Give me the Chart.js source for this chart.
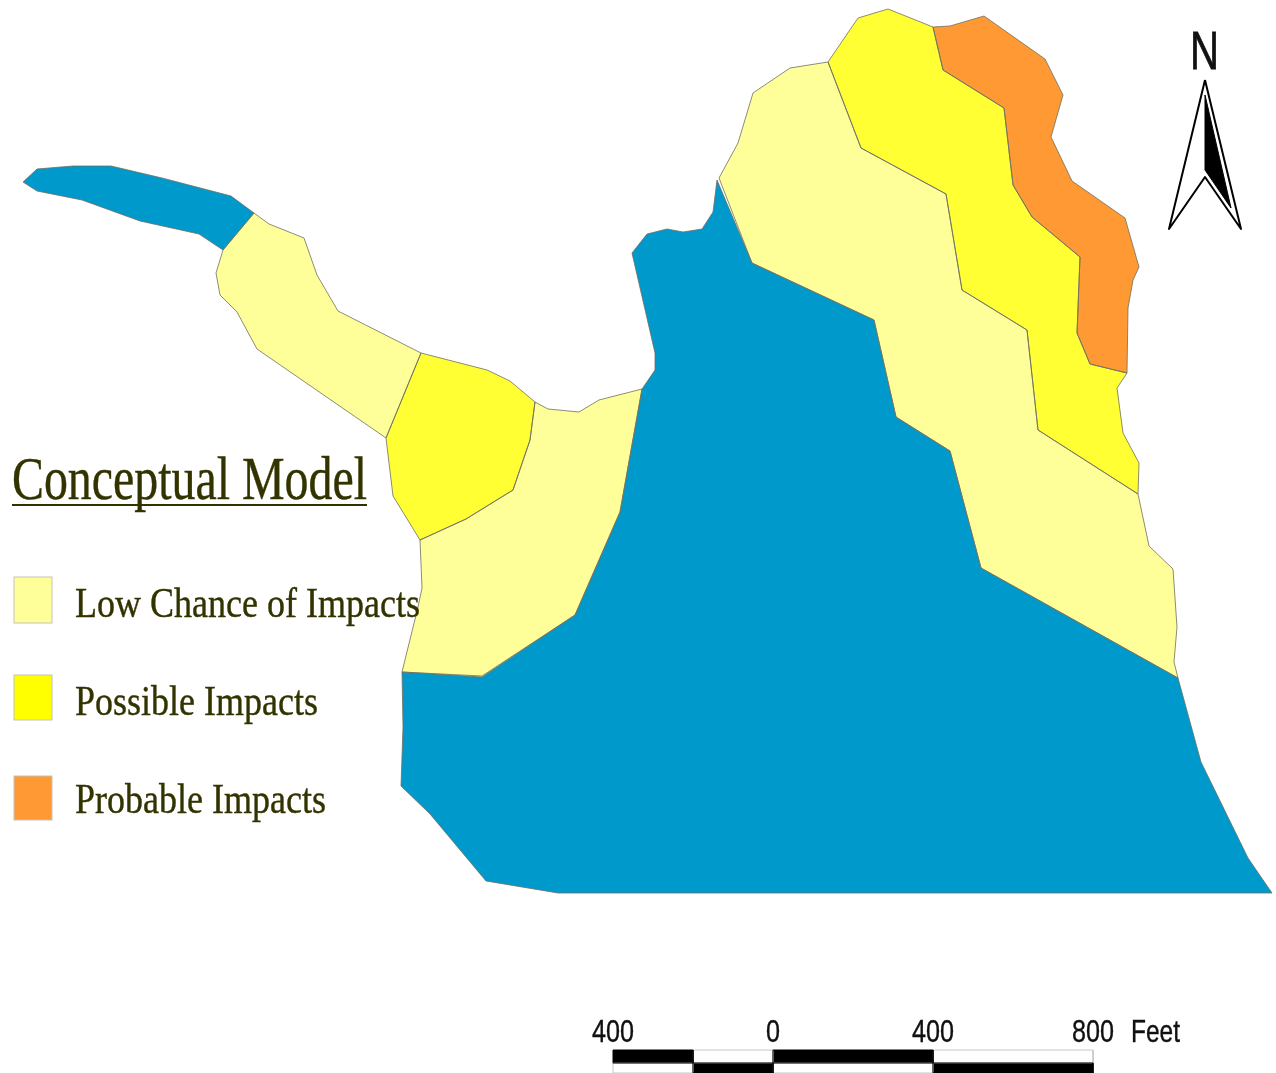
<!DOCTYPE html>
<html>
<head>
<meta charset="utf-8">
<title>Conceptual Model</title>
<style>
  html, body { margin: 0; padding: 0; background: #fff; }
  /* the source map is a soft, resampled raster */
  canvas { display: block; filter: blur(0.5px); }
</style>
<script src="https://cdn.jsdelivr.net/npm/chart.js@4/dist/chart.umd.min.js"></script>
</head>
<body>
<canvas id="chart-map" width="1276" height="1073"></canvas>
<script>
// ─── MAP ZONES (x, y) ────────────────────────────────────────
const waterTail = [
  [23,182],[37,169],[73,166],[111,166],[162,178],[231,196],[254,213],
  [223,250],[199,234],[140,221],[82,200],[37,191]
];
const waterMain = [
  [642,389],[655,370],[655,353],[632,253],[647,234],[667,229],[683,232],
  [702,229],[713,212],[717,180],[752,263],[874,320],[896,417],[950,451],
  [981,568],[1178,678],[1201,762],[1248,858],[1272,893],[558,893],[486,881],
  [430,814],[401,786],[403,727],[402,672],[482,676],[575,615],[620,512]
];
const lowWest = [
  [254,213],[269,224],[304,238],[317,275],[338,311],[421,353],[386,438],
  [257,349],[237,312],[220,295],[216,273],[223,250]
];
const lowMiddle = [
  [535,402],[548,409],[579,412],[599,400],[642,389],[620,512],[575,615],
  [482,677],[402,672],[418,607],[422,588],[420,540],[466,519],[513,490],[530,440]
];
const lowEast = [
  [719,178],[738,143],[753,93],[790,68],[828,62],[861,148],[946,194],[962,290],
  [1027,330],[1038,430],[1138,494],[1149,546],[1173,569],[1177,627],[1174,662],
  [1178,678],[981,568],[950,451],[896,417],[874,320],[752,263]
];
const possibleWest = [
  [421,353],[487,370],[510,381],[535,402],[530,440],[513,490],[466,519],
  [420,540],[393,496],[386,438]
];
const possibleEast = [
  [828,62],[858,18],[888,9],[933,27],[943,70],[1004,108],[1013,185],[1032,217],
  [1080,257],[1077,333],[1090,364],[1127,373],[1117,388],[1123,433],[1139,463],
  [1138,494],[1038,430],[1027,330],[962,290],[946,194],[861,148]
];
const probable = [
  [933,27],[950,26],[984,16],[1045,59],[1063,95],[1051,137],[1072,181],[1125,218],
  [1139,267],[1133,280],[1128,308],[1127,373],[1090,364],[1077,333],[1080,257],
  [1032,217],[1013,185],[1004,108],[943,70]
];

// ─── NORTH ARROW ─────────────────────────────────────────────
const arrowOutline = [[1205,80],[1241,229],[1205,177],[1169,229]];
const arrowShade = [[1205,95],[1231,208],[1205,170]];

// ─── LEGEND / SCALE BAR ──────────────────────────────────────
const mapTitle = 'Conceptual Model';
const legendLabels = ['Low Chance of Impacts', 'Possible Impacts', 'Probable Impacts'];
const scaleFeet = [-400, 0, 400, 800];
const scaleLabels = ['400', '0', '400', '800'];
const scaleTopBlack = [[-400,-200],[0,400]];
const scaleTopWhite = [[-200,0],[400,800]];
const scaleBottomBlack = [[-200,0],[400,800]];
const scaleBottomWhite = [[-400,-200],[0,400]];

const C_WATER = '#0099cc';
const C_LOW = '#ffff99';
const C_POSSIBLE = '#ffff33';
const C_PROBABLE = '#ff9933';
const C_EDGE = '#6f6f60';
const C_TEXT = '#333300';

const LEGEND_SWATCH = [
  { y: 577, h: 46, color: C_LOW },
  { y: 675, h: 45, color: '#ffff00' },
  { y: 776, h: 44, color: C_PROBABLE },
];
const LEGEND_TEXT = [
  { y: 617, w: 345 },
  { y: 715, w: 243 },
  { y: 813, w: 251 },
];

// feet → page x for the scale bar
const feetX = ft => 773 + ft * 0.4;

function closedPoints(poly) {
  return poly.concat([poly[0]]).map(p => ({ x: p[0], y: p[1] }));
}

function zone(poly, fill, edge, width) {
  return {
    data: closedPoints(poly),
    polyFill: fill,
    borderColor: edge,
    borderWidth: width,
    borderJoinStyle: 'round',
    pointRadius: 0,
    showLine: true,
    fill: false,
    tension: 0,
  };
}

function scaleBox(from, to, top, bottom, fill) {
  const box = [[feetX(from),top],[feetX(to),top],[feetX(to),bottom],[feetX(from),bottom]];
  return zone(box, fill, fill === '#000000' ? '#000000' : '#c8c8c8', 1);
}

// Chart.js has no closed-polygon fill, so paint each dataset's own points
const polygonFill = {
  id: 'polygonFill',
  beforeDatasetsDraw(chart) {
    const { ctx } = chart;
    chart.data.datasets.forEach((ds, i) => {
      const pts = chart.getDatasetMeta(i).data;
      ctx.save();
      ctx.beginPath();
      pts.forEach((p, k) => (k ? ctx.lineTo(p.x, p.y) : ctx.moveTo(p.x, p.y)));
      ctx.closePath();
      ctx.fillStyle = ds.polyFill;
      ctx.fill();
      ctx.restore();
    });
  }
};

// Slight stroke thickens the glyphs to the weight of the scanned labels
function heavyText(ctx, text, x, y, maxWidth) {
  ctx.fillText(text, x, y, maxWidth);
  ctx.strokeText(text, x, y, maxWidth);
}

// Title, legend, north letter and scale labels
const mapText = {
  id: 'mapText',
  afterDatasetsDraw(chart) {
    const { ctx } = chart;
    const sx = chart.scales.x;
    const sy = chart.scales.y;
    ctx.save();
    ctx.textBaseline = 'alphabetic';

    ctx.fillStyle = C_TEXT;
    ctx.strokeStyle = C_TEXT;
    ctx.lineWidth = 0.4;
    ctx.textAlign = 'left';
    ctx.font = "62px 'Liberation Serif'";
    heavyText(ctx, mapTitle, sx.getPixelForValue(12), sy.getPixelForValue(499), 355);
    ctx.fillRect(sx.getPixelForValue(12), sy.getPixelForValue(504), 355, 2);

    ctx.font = "43px 'Liberation Serif'";
    legendLabels.forEach((label, i) => {
      const sw = LEGEND_SWATCH[i];
      ctx.fillStyle = sw.color;
      ctx.fillRect(14, sw.y, 38, sw.h);
      ctx.strokeStyle = '#c4c4b8';
      ctx.lineWidth = 1;
      ctx.strokeRect(14, sw.y, 38, sw.h);
      ctx.fillStyle = C_TEXT;
      ctx.strokeStyle = C_TEXT;
      ctx.lineWidth = 0.4;
      heavyText(ctx, label, 75, LEGEND_TEXT[i].y, LEGEND_TEXT[i].w);
    });

    ctx.fillStyle = '#111';
    ctx.strokeStyle = '#111';
    ctx.lineWidth = 0.8;
    ctx.textAlign = 'center';
    ctx.font = "54px 'Liberation Sans'";
    heavyText(ctx, 'N', 1204.5, 69, 29);

    ctx.lineWidth = 0.4;
    ctx.font = "32px 'Liberation Sans'";
    scaleLabels.forEach((label, i) => {
      heavyText(ctx, label, feetX(scaleFeet[i]), 1042, 14 * label.length);
    });
    ctx.textAlign = 'left';
    heavyText(ctx, 'Feet', 1131, 1042, 49);
    ctx.restore();
  }
};

new Chart(document.getElementById('chart-map'), {
  type: 'scatter',
  data: {
    datasets: [
      zone(waterTail, C_WATER, C_EDGE, 0.8),
      zone(waterMain, C_WATER, C_EDGE, 0.8),
      zone(lowWest, C_LOW, C_EDGE, 0.8),
      zone(lowMiddle, C_LOW, C_EDGE, 0.8),
      zone(lowEast, C_LOW, C_EDGE, 0.8),
      zone(possibleWest, C_POSSIBLE, C_EDGE, 0.8),
      zone(possibleEast, C_POSSIBLE, C_EDGE, 0.8),
      zone(probable, C_PROBABLE, C_EDGE, 0.8),
      zone(arrowOutline, '#ffffff', '#000000', 2),
      zone(arrowShade, '#000000', '#000000', 1),
      ...scaleTopBlack.map(s => scaleBox(s[0], s[1], 1050, 1063, '#000000')),
      ...scaleBottomBlack.map(s => scaleBox(s[0], s[1], 1063, 1073, '#000000')),
      ...scaleTopWhite.map(s => scaleBox(s[0], s[1], 1050, 1063, '#ffffff')),
      ...scaleBottomWhite.map(s => scaleBox(s[0], s[1], 1063, 1073, '#ffffff')),
    ]
  },
  options: {
    responsive: false,
    animation: false,
    devicePixelRatio: 1,
    layout: { padding: 0 },
    plugins: {
      legend: { display: false },
      tooltip: { enabled: false },
    },
    scales: {
      x: { type: 'linear', display: false, min: 0, max: 1276 },
      y: { type: 'linear', display: false, min: 0, max: 1073, reverse: true },
    }
  },
  plugins: [polygonFill, mapText]
});
</script>
</body>
</html>
